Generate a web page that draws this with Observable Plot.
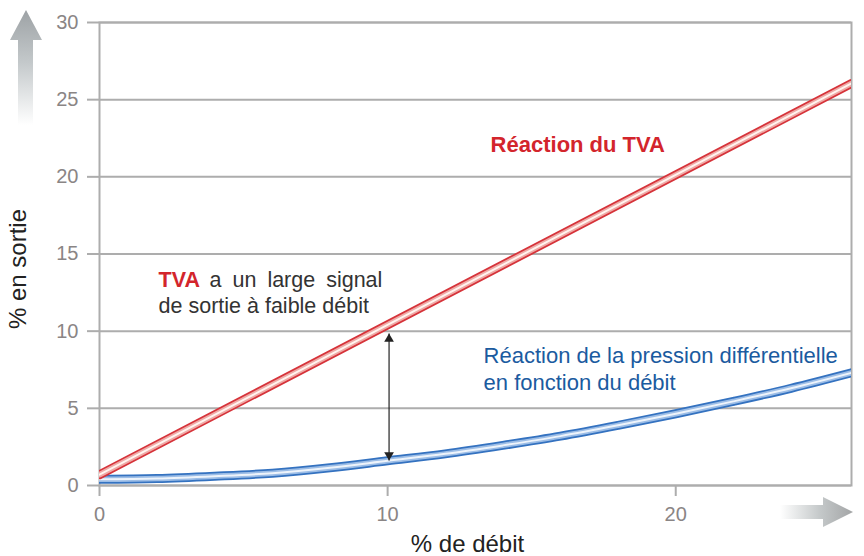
<!DOCTYPE html>
<html>
<head>
<meta charset="utf-8">
<script src="https://cdn.jsdelivr.net/npm/d3@7"></script>
<script src="https://cdn.jsdelivr.net/npm/@observablehq/plot@0.6"></script>
<style>
  body { margin: 0; background: #fff; }
  #wrap { position: relative; width: 864px; height: 556px; font-family: "Liberation Sans", Arial, sans-serif; }
  #deco { position: absolute; left: 0; top: 0; pointer-events: none; }
</style>
</head>
<body>
<div id="wrap"></div>
<script>
// ---- data ----
const xTicks = [0, 10, 20];
const yTicks = [0, 5, 10, 15, 20, 25, 30];
const xMax = 26.1;

// TVA response (straight line)
const tvaX = [0, 26.1];
const tvaY = [0.7, 26.05];

// differential pressure response (curve)
const dpX = [0, 2, 4, 6, 8, 10, 12, 14, 16, 18, 20, 22, 24, 26.1];
const dpY = [0.4, 0.45, 0.6, 0.8, 1.15, 1.6, 2.05, 2.6, 3.2, 3.9, 4.65, 5.45, 6.3, 7.3];

// double-headed arrow between curves
const gapX = 10.05;
const gapTop = 9.85;
const gapBottom = 1.62;

// annotation texts
const tvaTitle = "Réaction du TVA";
const tvaNoteBold = "TVA";
const tvaNoteLine1 = "a un large signal";
const tvaNoteLine2 = "de sortie à faible débit";
const dpNote = ["Réaction de la pression différentielle", "en fonction du débit"];
const xLabel = "% de débit";
const yLabel = "% en sortie";

const tva = tvaX.map((x, i) => ({x, y: tvaY[i]}));
const dp = dpX.map((x, i) => ({x, y: dpY[i]}));

const RED = "#d3252c", BLUE = "#1b5b9f", GRID = "#adadad", TICKTXT = "#8a8585";
const FONT = "'Liberation Sans', Arial, sans-serif";

function tube(data, edge, mid, core) {
  return [
    Plot.line(data, {x: "x", y: "y", stroke: edge, strokeWidth: 9, clip: true, curve: "catmull-rom"}),
    Plot.line(data, {x: "x", y: "y", stroke: mid, strokeWidth: 5.5, clip: true, curve: "catmull-rom"}),
    Plot.line(data, {x: "x", y: "y", stroke: core, strokeWidth: 2, clip: true, curve: "catmull-rom"})
  ];
}

const svg = Plot.plot({
  width: 864,
  height: 556,
  marginLeft: 99,
  marginRight: 13,
  marginTop: 22,
  marginBottom: 71,
  style: {fontFamily: FONT, background: "#fff", overflow: "visible"},
  x: {domain: [0, xMax], ticks: xTicks},
  y: {domain: [0, 30], ticks: yTicks},
  marks: [
    Plot.gridY(yTicks, {stroke: GRID, strokeOpacity: 1, strokeWidth: 2}),
    Plot.frame({stroke: GRID, strokeWidth: 2}),
    Plot.axisY(yTicks, {tickSize: 12, tickPadding: 9, fontSize: 20, stroke: GRID, strokeWidth: 2, fill: TICKTXT, label: null}),
    Plot.axisX(xTicks, {tickSize: 11, tickPadding: 10, fontSize: 20, stroke: GRID, strokeWidth: 2, fill: TICKTXT, label: null}),
    ...tube(dp, "#3472c0", "#9cbde6", "#eef4fb"),
    ...tube(tva, "#d6333a", "#efa9a6", "#fff4ef"),
    Plot.link([{x1: gapX, y1: gapTop, x2: gapX, y2: gapBottom}], {x1: "x1", y1: "y1", x2: "x2", y2: "y2", stroke: "#222", strokeWidth: 1.2}),
    Plot.dot([{x: gapX, y: gapTop}], {x: "x", y: "y", symbol: "triangle", r: 3.6, fill: "#222", stroke: null, dy: 5.5}),
    Plot.dot([{x: gapX, y: gapBottom}], {x: "x", y: "y", symbol: "triangle", r: 3.6, fill: "#222", stroke: null, dy: -5.5, rotate: 180}),
    Plot.text([tvaTitle], {x: 16.6, y: 22.05, text: d => d, fill: RED, fontWeight: "bold", fontSize: 22}),
    Plot.text([tvaNoteBold], {x: 2.05, y: 13.3, text: d => d, fill: RED, fontWeight: "bold", fontSize: 21.5, textAnchor: "start"}),
    Plot.text([tvaNoteLine1], {x: 2.05, y: 13.3, dx: 51, text: d => d, fill: "#333", fontSize: 21.5, textAnchor: "start"}),
    Plot.text([tvaNoteLine2], {x: 2.05, y: 11.6, text: d => d, fill: "#333", fontSize: 21.5, textAnchor: "start"}),
    Plot.text(dpNote, {x: 13.33, y: (d, i) => [8.4, 6.65][i], text: d => d, fill: BLUE, fontSize: 22, textAnchor: "start"}),
    Plot.text([xLabel], {frameAnchor: "bottom", dx: -8, dy: 66, text: d => d, fill: "#222", fontSize: 24}),
    Plot.text([yLabel], {frameAnchor: "left", textAnchor: "middle", dx: -81, dy: 15, rotate: -90, text: d => d, fill: "#222", fontSize: 24})
  ]
});

d3.select(svg).selectAll("text").filter(function() { return this.textContent === tvaNoteLine1; })
  .style("word-spacing", "5px");

const wrap = document.getElementById("wrap");
wrap.appendChild(svg);

// decorative gradient arrows (outside the plot frame)
const deco = d3.select(wrap).append("svg").attr("id", "deco").attr("width", 864).attr("height", 556);
const defs = deco.append("defs");
const gUp = defs.append("linearGradient").attr("id", "gUp").attr("gradientUnits", "userSpaceOnUse")
  .attr("x1", 0).attr("y1", 10).attr("x2", 0).attr("y2", 125);
gUp.append("stop").attr("offset", 0).attr("stop-color", "#9da2a5");
gUp.append("stop").attr("offset", 0.45).attr("stop-color", "#c3c8ca");
gUp.append("stop").attr("offset", 1).attr("stop-color", "#ffffff");
const gRight = defs.append("linearGradient").attr("id", "gRight").attr("gradientUnits", "userSpaceOnUse")
  .attr("x1", 780).attr("y1", 0).attr("x2", 853).attr("y2", 0);
gRight.append("stop").attr("offset", 0).attr("stop-color", "#ffffff");
gRight.append("stop").attr("offset", 0.55).attr("stop-color", "#c4c8c9");
gRight.append("stop").attr("offset", 1).attr("stop-color", "#a3a5a6");
deco.append("path").attr("d", "M26,10 L42,40 L33,40 L33,125 L18,125 L18,40 L10,40 Z").attr("fill", "url(#gUp)");
deco.append("path").attr("d", "M853,512 L823,527 L823,519 L780,519 L780,505 L823,505 L823,497 Z").attr("fill", "url(#gRight)");
</script>
</body>
</html>
